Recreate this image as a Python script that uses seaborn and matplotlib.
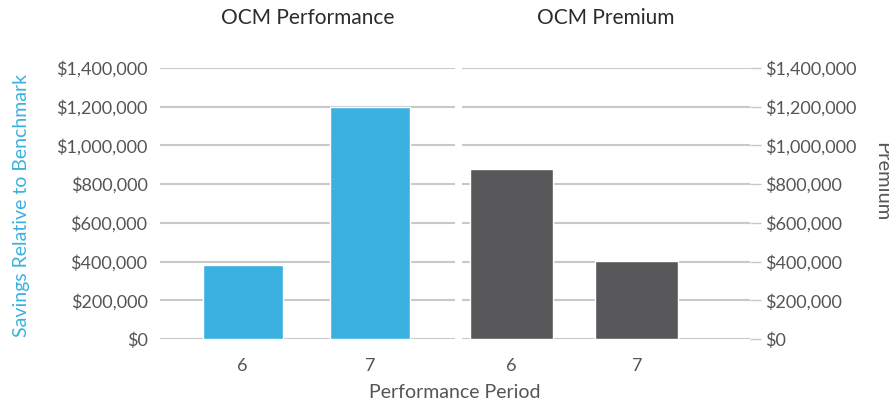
import matplotlib
matplotlib.use("Agg")
import matplotlib.pyplot as plt
import matplotlib.ticker as mticker
import seaborn as sns
import pandas as pd

periods = ["6", "7"]
performance_savings = [382000, 1200000]
premium_values = [878000, 403000]
panel_titles = ["OCM Performance", "OCM Premium"]
y_ticks = [0, 200000, 400000, 600000, 800000, 1000000, 1200000, 1400000]

BLUE = "#3AB1E1"
GREY = "#58585B"
TEXT = "#555555"
GRID = "#C9C9C9"

sns.set_theme(style="white")
plt.rcParams["font.family"] = ["Lato", "DejaVu Sans"]

W, H = 889, 403
fig = plt.figure(figsize=(W / 100, H / 100), dpi=100)

def box(x0, x1, y0, y1):
    return [x0 / W, 1 - y1 / H, (x1 - x0) / W, (y1 - y0) / H]

ax_l = fig.add_axes(box(160, 455, 68, 339))
ax_r = fig.add_axes(box(462, 750, 68, 339))

df_l = pd.DataFrame({"period": periods, "value": performance_savings})
df_r = pd.DataFrame({"period": periods, "value": premium_values})

sns.barplot(data=df_l, x="period", y="value", color=BLUE, saturation=1,
            width=0.63, ax=ax_l)
sns.barplot(data=df_r, x="period", y="value", color=GREY, saturation=1,
            width=0.66, ax=ax_r)

money = mticker.FuncFormatter(lambda v, p: f"${v:,.0f}")

for ax, title in zip((ax_l, ax_r), panel_titles):
    ax.set_ylim(0, 1400000)
    ax.set_yticks(y_ticks)
    ax.yaxis.set_major_formatter(money)
    ax.grid(axis="y", color=GRID, linewidth=1.5)
    ax.set_axisbelow(True)
    for s in ax.spines.values():
        s.set_visible(False)
    ax.set_xlabel("")
    ax.set_ylabel("")
    ax.set_title(title, fontsize=15, color="#2B2B2B", pad=32)
    ax.tick_params(axis="x", length=0, labelsize=13, labelcolor=TEXT, pad=14)

ax_l.set_xlim(-0.65, 1.67)
ax_r.set_xlim(-0.39, 1.9)

ax_l.tick_params(axis="y", length=0, labelsize=13, labelcolor=TEXT, pad=9)
ax_r.yaxis.tick_right()
ax_r.tick_params(axis="y", right=True, left=False, length=8, width=1,
                 color=GRID, labelsize=13, labelcolor=TEXT, pad=3)

fig.text(22 / W, 1 - 205 / H, "Savings Relative to Benchmark", rotation=90,
         ha="center", va="center", fontsize=14, color=BLUE)
fig.text(882 / W, 1 - 182 / H, "Premium", rotation=270,
         ha="center", va="center", fontsize=14.5, color=TEXT)
fig.text(455 / W, 1 - 392 / H, "Performance Period",
         ha="center", va="center", fontsize=14, color=TEXT)

fig.savefig("out.png", dpi=100)
